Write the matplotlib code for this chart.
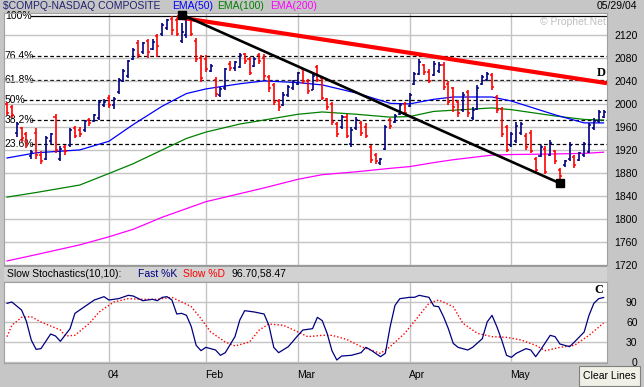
import matplotlib
matplotlib.use("Agg")
import matplotlib.pyplot as plt
from matplotlib.patches import Rectangle
import numpy as np

W, H = 644, 387
BG = "#c6c6c6"
NAVY = "#000080"
RED = "#ff0000"
GRID = "#c4c4c4"
FONT = "Liberation Sans"

# --- daily bars, 2 Dec 2003 -> 28 May 2004 (bar index 0..123) ---
opens = [2000, 1995, 1950, 1958, 1948, 1910, 1950, 1912, 1905, 1935,
         1978, 1905, 1925, 1928, 1958, 1955, 1955, 1972, 1970, 1975,
         1998, 2010, 1998, 2020, 2040, 2048, 2078, 2105, 2090, 2110,
         2095, 2118, 2122, 2132, 2148, 2145, 2110, 2120, 2148, 2110,
         2080, 2078, 2058, 2042, 2015, 2028, 2070, 2062, 2065, 2086,
         2078, 2066, 2085, 2080, 2046, 2032, 2005, 1998, 2015, 2028,
         2035, 2060, 2040, 2025, 2065, 2045, 2008, 2000, 1965, 1960,
         1978, 1930, 1958, 1966, 1960, 1925, 1912, 1898, 1922, 1972,
         1968, 1982, 2000, 1996, 2035, 2052, 2068, 2056, 2050, 2058,
         2068, 2035, 2028, 2003, 1990, 2020, 1975, 1992, 2035, 2042,
         2050, 2012, 1992, 1960, 1928, 1935, 1950, 1945, 1950, 1905,
         1910, 1922, 1912, 1918, 1885, 1893, 1905, 1908, 1902, 1912,
         1916, 1958, 1970, 1978]
highs = [2003, 1998, 1968, 1960, 1952, 1920, 1958, 1918, 1945, 1950,
         1982, 1926, 1928, 1958, 1962, 1960, 1972, 1976, 1982, 2007,
         2008, 2015, 2012, 2045, 2060, 2077, 2097, 2111, 2108, 2113,
         2112, 2122, 2140, 2148, 2152, 2150, 2140, 2153, 2150, 2115,
         2085, 2085, 2070, 2046, 2030, 2063, 2074, 2074, 2088, 2088,
         2082, 2082, 2088, 2086, 2050, 2036, 2008, 2021, 2033, 2042,
         2056, 2062, 2043, 2053, 2068, 2048, 2010, 2004, 1969, 1981,
         1982, 1960, 1978, 1970, 1967, 1929, 1915, 1906, 1963, 1975,
         1982, 2001, 2003, 2019, 2056, 2078, 2070, 2060, 2074, 2072,
         2072, 2040, 2030, 2007, 2021, 2024, 1995, 2033, 2050, 2056,
         2054, 2015, 1995, 1964, 1952, 1969, 1969, 1950, 1955, 1908,
         1929, 1926, 1937, 1920, 1888, 1903, 1934, 1912, 1917, 1934,
         1967, 1975, 1990, 1990]
lows = [1981, 1975, 1943, 1934, 1923, 1905, 1905, 1895, 1902, 1930,
        1915, 1900, 1912, 1925, 1940, 1942, 1952, 1962, 1968, 1972,
        1995, 1993, 1992, 2018, 2038, 2045, 2076, 2080, 2087, 2080,
        2093, 2082, 2118, 2128, 2120, 2118, 2105, 2115, 2118, 2072,
        2038, 2055, 2055, 2012, 2012, 2025, 2058, 2058, 2062, 2070,
        2050, 2064, 2070, 2042, 2020, 1998, 1988, 1996, 2012, 2024,
        2032, 2035, 2018, 2024, 2038, 2006, 1990, 1963, 1943, 1956,
        1940, 1925, 1955, 1945, 1940, 1897, 1895, 1893, 1920, 1957,
        1966, 1980, 1980, 1994, 2032, 2050, 2050, 2036, 2048, 2054,
        2024, 1998, 1986, 1978, 1986, 1978, 1972, 1990, 2032, 2040,
        2024, 1984, 1943, 1917, 1925, 1932, 1946, 1920, 1914, 1878,
        1908, 1878, 1910, 1896, 1870, 1890, 1900, 1888, 1900, 1908,
        1914, 1955, 1966, 1975]
closes = [1985, 1980, 1965, 1940, 1930, 1917, 1912, 1900, 1940, 1948,
          1920, 1922, 1918, 1955, 1945, 1948, 1970, 1966, 1980, 2003,
          2004, 1998, 2008, 2042, 2057, 2074, 2094, 2085, 2105, 2090,
          2108, 2100, 2137, 2145, 2128, 2122, 2125, 2150, 2122, 2078,
          2045, 2060, 2066, 2018, 2026, 2060, 2062, 2072, 2085, 2074,
          2054, 2078, 2074, 2048, 2028, 2003, 1995, 2015, 2030, 2039,
          2053, 2040, 2022, 2048, 2042, 2010, 1995, 1968, 1948, 1978,
          1945, 1955, 1972, 1950, 1945, 1902, 1900, 1904, 1960, 1962,
          1979, 1998, 1985, 2015, 2052, 2072, 2055, 2040, 2070, 2068,
          2030, 2003, 1995, 1985, 2015, 1985, 1990, 2028, 2046, 2052,
          2030, 1990, 1948, 1920, 1948, 1962, 1965, 1925, 1918, 1885,
          1925, 1882, 1932, 1900, 1875, 1900, 1928, 1893, 1914, 1930,
          1964, 1970, 1986, 1986]

# moving averages at these bar indices
ema_idx = [0, 6, 15, 21, 26, 32, 37, 41, 48, 53, 60, 65, 72, 79, 83,
           88, 92, 100, 104, 113, 119, 123]
ema50 = [1906, 1915, 1920, 1935, 1964, 1996, 2018, 2026, 2035, 2040, 2037,
         2033, 2019, 2001, 2000, 2008, 2012, 2012, 2005, 1981, 1967, 1967]
ema100 = [1838, 1846, 1859, 1879, 1896, 1920, 1940, 1951, 1965, 1972, 1982,
          1986, 1982, 1977, 1978, 1987, 1989, 1993, 1990, 1979, 1973, 1972]
ema200 = [1727, 1738, 1755, 1769, 1782, 1803, 1818, 1830, 1844, 1854, 1869,
          1877, 1882, 1888, 1891, 1898, 1903, 1911, 1912, 1913, 1914, 1916]

# fibonacci retracement levels
fib_labels = ["23.6%", "38.2%", "50%", "61.8%", "76.4%", "100%"]
fib_levels = [1930, 1972, 2007, 2042, 2084, 2153]

# hand-drawn trend lines (bar index, price)
red_line_idx = [35.0, 123.7]
red_line_val = [2151, 2036]
black_line_idx = [36.1, 114.0]
black_line_val = [2155, 1862]

# slow stochastics
k_idx = [0, 1, 3, 4, 5, 6, 7, 9, 10, 11, 13, 14, 16, 18, 20, 21, 23, 25, 26,
         28, 30, 31, 32, 33, 34, 35, 36, 37, 38, 39, 40, 41, 43, 44, 45, 47,
         48, 49, 51, 53, 54, 55, 56, 58, 60, 61, 63, 64, 65, 66, 67, 68, 69,
         71, 73, 74, 75, 77, 78, 79, 80, 81, 83, 84, 85, 87, 88, 89, 90, 91,
         92, 93, 95, 96, 98, 99, 100, 101, 102, 103, 104, 105, 107, 108, 109,
         110, 112, 113, 114, 116, 117, 119, 120, 121, 122, 123]
k_val = [88, 90, 78, 61, 33, 19, 20, 42, 39, 31, 50, 73, 83, 93, 98, 93, 95,
         100, 99, 92, 94, 92, 97, 98, 93, 72, 73, 70, 53, 25, 17, 22, 18, 10,
         14, 38, 63, 77, 75, 72, 55, 22, 14, 23, 40, 48, 50, 67, 62, 43, 17,
         3, 9, 10, 14, 22, 18, 8, 13, 53, 85, 95, 97, 97, 100, 97, 84, 83, 68,
         50, 28, 22, 18, 22, 35, 60, 70, 53, 33, 10, 7, 13, 20, 18, 8, 18, 40,
         38, 27, 23, 30, 45, 70, 88, 95, 96.7]
d_idx = [0, 1, 3, 5, 7, 11, 12, 14, 17, 19, 22, 25, 28, 31, 34, 36, 38, 40,
         42, 45, 47, 50, 52, 54, 57, 60, 62, 65, 67, 70, 73, 75, 77, 79, 82,
         85, 87, 89, 92, 94, 97, 100, 103, 106, 109, 111, 114, 117, 120, 123]
d_val = [38, 55, 67, 68, 60, 48, 39, 40, 58, 75, 90, 95, 94, 94, 97, 90, 83,
         65, 45, 30, 24, 30, 48, 57, 55, 45, 38, 40, 40, 34, 23, 18, 13, 23,
         43, 70, 88, 93, 83, 58, 43, 38, 37, 33, 25, 17, 22, 25, 40, 58.47]

month_idx = [21, 41, 60, 83, 104]
month_labels = ["04", "Feb", "Mar", "Apr", "May"]
price_ticks = list(range(1720, 2121, 40))
stoch_ticks = [0, 30, 60, 90]

plt.rcParams["font.family"] = FONT
fig = plt.figure(figsize=(W / 100, H / 100), dpi=100, facecolor=BG)


def fx(x):
    return x / W


def fy(y):
    return 1 - y / H


XL = (-0.62, 123.71)

# ---------------- price panel ----------------
ax = fig.add_axes([fx(4), fy(265), fx(607) - fx(4), fy(13) - fy(265)])
ax.set_facecolor("white")
ax.set_xlim(*XL)
ax.set_ylim(1720, 2158)
ax.set_yticks(price_ticks)
ax.yaxis.tick_right()
ax.tick_params(axis="y", length=0, pad=22, labelsize=7.5)
for t in ax.get_yticklabels():
    t.set_ha("right")
ax.set_xticks([])
ax.grid(axis="y", color=GRID, lw=1.0)
for m in month_idx:
    ax.axvline(m, color=GRID, lw=1.0, zorder=0.5)
for s in ax.spines.values():
    s.set_color("#a0a0a0")
    s.set_linewidth(0.8)

# fib levels
for lab, lv in zip(fib_labels, fib_levels):
    start = 4.9 if len(lab) > 3 else 3.4
    ls = "-" if lab == "100%" else (0, (3, 2))
    ax.plot([start, XL[1]], [lv, lv], color="black", lw=0.9, ls=ls, zorder=1)
    ax.text(XL[0] + 0.15, lv, lab, fontsize=7.5, va="center", ha="left", zorder=1)

ax.plot(ema_idx, ema200, color="#ff00ff", lw=0.9, zorder=2)
ax.plot(ema_idx, ema100, color="#008000", lw=0.9, zorder=2)
ax.plot(ema_idx, ema50, color="#0000ff", lw=0.9, zorder=2)

idx = np.arange(len(closes))
cols = [NAVY if c >= o else RED for o, c in zip(opens, closes)]
ax.vlines(idx, lows, highs, colors=cols, lw=1.2, zorder=3)
ax.hlines(opens, idx - 0.42, idx, colors=cols, lw=1.1, zorder=3)
ax.hlines(closes, idx, idx + 0.42, colors=cols, lw=1.1, zorder=3)

ax.plot(red_line_idx, red_line_val, color=RED, lw=3.0, solid_capstyle="butt", zorder=4)
ax.plot(black_line_idx, black_line_val, color="black", lw=1.9, zorder=4)
ax.plot(black_line_idx, black_line_val, ls="none", marker="s", ms=5.5,
        color="black", zorder=5, clip_on=False)

ax.text(XL[1] - 0.2, 2053, "D", fontsize=9, fontweight="bold",
        family="Liberation Serif", ha="right", va="center")
ax.text(XL[1] - 0.3, 2143, "\u00a9 Prophet.Net", fontsize=7.5, color="#c0c0c0",
        ha="right", va="center")

# ---------------- stochastics panel ----------------
sx = fig.add_axes([fx(4), fy(363), fx(607) - fx(4), fy(282) - fy(363)])
sx.set_facecolor("white")
sx.set_xlim(*XL)
sx.set_ylim(-1.5, 120)
sx.set_yticks(stoch_ticks)
sx.yaxis.tick_right()
sx.tick_params(axis="y", length=0, pad=22, labelsize=7.5)
for t in sx.get_yticklabels():
    t.set_ha("right")
sx.set_xticks([])
sx.grid(axis="y", color=GRID, lw=1.0)
for m in month_idx:
    sx.axvline(m, color=GRID, lw=1.0, zorder=0.5)
for s in sx.spines.values():
    s.set_color("#a0a0a0")
    s.set_linewidth(0.8)
sx.plot(d_idx, d_val, color=RED, lw=1.0, ls=(0, (1, 1.5)), zorder=2)
sx.plot(k_idx, k_val, color=NAVY, lw=0.9, zorder=3)
sx.text(XL[1] - 0.8, 108, "C", fontsize=9, fontweight="bold",
        family="Liberation Serif", ha="right", va="center")

# header band of the stochastics panel
fig.patches.append(Rectangle((fx(4), fy(281)), fx(607) - fx(4), fy(267) - fy(281),
                             transform=fig.transFigure, facecolor="#d2d2d2",
                             edgecolor="none"))
fig.patches.append(Rectangle((fx(4), fy(267)), fx(607) - fx(4), 2 / H,
                             transform=fig.transFigure, facecolor="#9a9a9a",
                             edgecolor="none"))
hy = fy(274)
fig.text(fx(7), hy, "Slow Stochastics(10,10):", fontsize=7.5, va="center")
fig.text(fx(138), hy, "Fast %K", fontsize=7.5, va="center", color=NAVY)
fig.text(fx(183), hy, "Slow %D", fontsize=7.5, va="center", color=RED)
fig.text(fx(232), hy, "96.70,58.47", fontsize=7.5, va="center")

# top header
ty = fy(6)
fig.text(fx(3), ty, "$COMPQ-NASDAQ COMPOSITE", fontsize=7.5, va="center", color="#202070")
fig.text(fx(172), ty, "EMA(50)", fontsize=7.5, va="center", color="#0000ff")
fig.text(fx(217), ty, "EMA(100)", fontsize=7.5, va="center", color="#008000")
fig.text(fx(270), ty, "EMA(200)", fontsize=7.5, va="center", color="#ff00ff")
fig.text(fx(637), ty, "05/29/04", fontsize=7.5, va="center", ha="right")

# month labels
for m, lab in zip(month_idx, month_labels):
    xp = 7 + 4.85 * m - 1
    fig.text(fx(xp), fy(375), lab, fontsize=7.5, va="center", ha="left")

# clear lines button
fig.patches.append(Rectangle((fx(579), fy(386)), fx(61), 20 / H,
                             transform=fig.transFigure, facecolor="#f0f0e6",
                             edgecolor="#808080", lw=0.8))
fig.text(fx(609.5), fy(376), "Clear Lines", fontsize=7.5, va="center", ha="center")

fig.savefig("out.png", dpi=100, facecolor=BG)
